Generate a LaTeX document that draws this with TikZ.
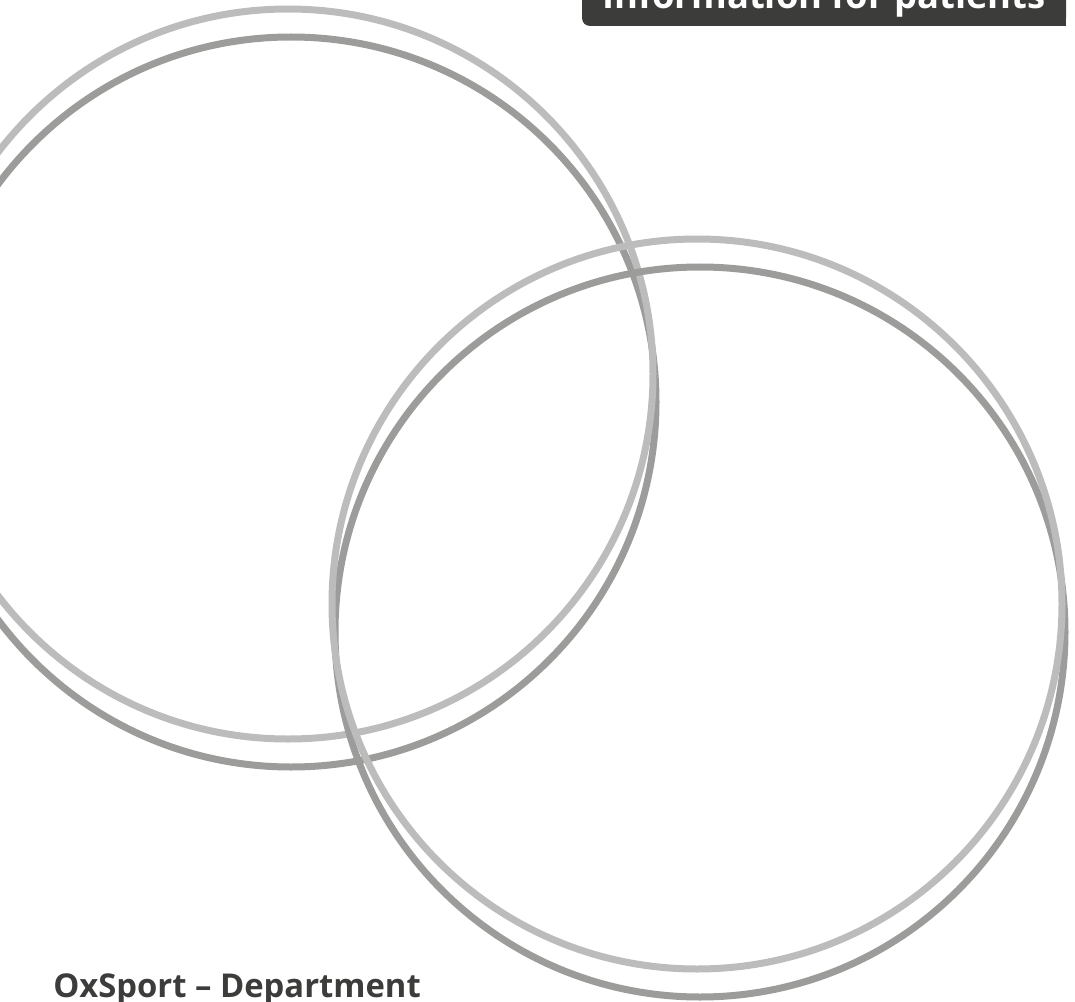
\documentclass[tikz,border=0pt]{standalone}
\usepackage{fontspec}
\setmainfont{Open Sans}
\usepackage{tikz}
\usepackage{xcolor}
\definecolor{ring-light-gray}{HTML}{BCBCBC}
\definecolor{ring-dark-gray}{HTML}{9C9C9B}
\definecolor{title-gray}{HTML}{3C3C3B}
\tikzset{
    ring-light/.style = {draw=ring-light-gray, line width=5.25pt},
    ring-dark/.style = {draw=ring-dark-gray, line width=5.25pt},
    title-box/.style = {fill=title-gray},
    title-text/.style = {text=white, font=\fontsize{27.3}{32}\selectfont\bfseries, inner sep=0pt},
    footer-text/.style = {text=title-gray, font=\fontsize{24.6}{29}\selectfont\bfseries, inner sep=0pt},
}

\begin{document}
\begin{tikzpicture}[x=0.75pt, y=-0.75pt]
\useasboundingbox (0,0) rectangle (1075,1002);
\clip (0,0) rectangle (1075,1002);
% left pair of rings
\draw[ring-dark] (291,402) circle[radius=365];
\draw[ring-light] (288,374) circle[radius=365];
% right pair of rings
\draw[ring-dark] (700,632) circle[radius=365];
\draw[ring-light] (697,604) circle[radius=365];
% title tab, cut by the top edge
\fill[title-box, rounded corners=6pt] (582,-30) rectangle (1066,26);
\fill[title-box] (800,-30) rectangle (1066,26);
\node[title-text, anchor=base west] (title) at (602,9) {Information for patients};
\node[footer-text, anchor=base west] (footer) at (53,997) {OxSport – Department};
\end{tikzpicture}
\end{document}
